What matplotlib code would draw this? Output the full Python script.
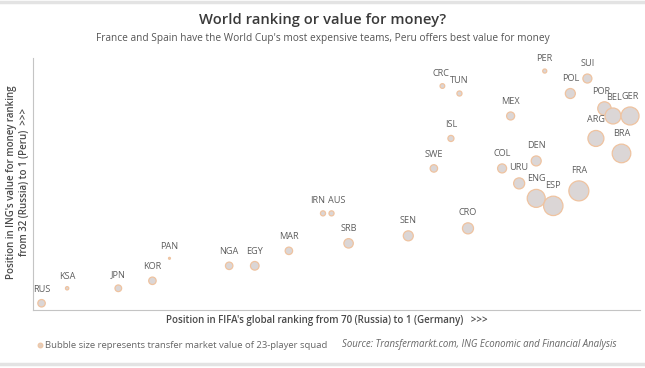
"""
World ranking vs value for money bubble chart (ING, World Cup 2018).
"""
import matplotlib
matplotlib.use("Agg")
import matplotlib.pyplot as plt
from matplotlib.lines import Line2D
import numpy as np

plt.rcParams["font.family"] = ["Open Sans", "DejaVu Sans"]

# ── data ────────────────────────────────────────────────────────────────
teams = ["RUS", "KSA", "JPN", "KOR", "PAN", "NGA", "EGY", "MAR", "IRN", "AUS",
         "SRB", "SEN", "CRO", "SWE", "ISL", "CRC", "TUN", "PER", "SUI", "POL",
         "MEX", "COL", "DEN", "URU", "ENG", "ESP", "FRA", "ARG", "BRA", "POR",
         "BEL", "GER"]
fifa_rank = [70, 67, 61, 57, 55, 48, 45, 41, 37, 36,
             34, 27, 20, 24, 22, 23, 21, 11, 6, 8,
             15, 16, 12, 14, 12, 10, 7, 5, 2, 4,
             3, 1]
value_rank = [32, 30, 30, 29, 26, 27, 27, 25, 20, 20,
              24, 23, 22, 14, 10, 3, 4, 1, 2, 4,
              7, 14, 13, 16, 18, 19, 17, 10, 12, 6,
              7, 7]
# squad transfer value, EUR m
squad_value = [150, 30, 120, 150, 10, 150, 200, 150, 70, 70,
               240, 270, 330, 150, 100, 60, 70, 45, 220, 270,
               175, 220, 270, 330, 875, 1015, 1080, 690, 935, 485,
               690, 875]

# small horizontal nudges for crowded labels (points)
label_dx = {"IRN": -4, "AUS": 4, "CRC": -1, "POR": -2, "BEL": 1}

FILL = "#dbd6d6"
EDGE = "#efc3a0"
LABEL_C = "#5e5e5e"

fig = plt.figure(figsize=(6.45, 3.68), dpi=100)
ax = fig.add_axes([0.0512, 0.1576, 0.9408, 0.6848])

vals = np.array(squad_value, dtype=float)
r_px = np.sqrt(vals / 10.8)
sizes = (2 * r_px * 0.72) ** 2

ax.scatter(fifa_rank, value_rank, s=sizes, facecolor=FILL, edgecolor=EDGE,
           linewidth=0.9, zorder=3)

for t, x, y, r in zip(teams, fifa_rank, value_rank, r_px):
    ax.annotate(t, (x, y), xytext=(label_dx.get(t, 0), (r + 10.5) * 0.72),
                textcoords="offset points", ha="center", va="center",
                fontsize=6.6, color=LABEL_C, zorder=4)

ax.set_xlim(71.0, -0.15)
ax.set_ylim(32.9, -0.74)
ax.set_xticks([]); ax.set_yticks([])
for side in ["top", "right"]:
    ax.spines[side].set_visible(False)
for side in ["left", "bottom"]:
    ax.spines[side].set_color("#c4c4c4")
    ax.spines[side].set_linewidth(0.8)

# ── texts ───────────────────────────────────────────────────────────────
fig.text(0.5, 1 - 20 / 368, "World ranking or value for money?", ha="center", va="center",
         fontsize=10.6, fontweight="semibold", color="#3a3a3a")
fig.text(0.5, 1 - 38 / 368,
         "France and Spain have the World Cup's most expensive teams, Peru offers best value for money",
         ha="center", va="center", fontsize=7.3, color="#555555")
fig.text(18 / 645, 1 - 182 / 368,
         "Position in ING's value for money ranking\nfrom 32 (Russia) to 1 (Peru)  >>>",
         rotation=90, ha="center", va="center", fontsize=7, fontweight="semibold",
         color="#4a4a4a", linespacing=1.25)
fig.text(327 / 645, 1 - 320 / 368,
         "Position in FIFA's global ranking from 70 (Russia) to 1 (Germany)   >>>",
         ha="center", va="center", fontsize=7, fontweight="semibold", color="#4a4a4a")

fig.add_artist(Line2D([40 / 645], [1 - 345 / 368], marker="o", markersize=3.5,
                      markerfacecolor="#e3cdbb", markeredgecolor=EDGE, markeredgewidth=0.7,
                      transform=fig.transFigure))
fig.text(45 / 645, 1 - 345 / 368,
         "Bubble size represents transfer market value of 23-player squad",
         ha="left", va="center", fontsize=6.8, color="#666666")
fig.text(342 / 645, 1 - 345 / 368,
         "Source: Transfermarkt.com, ING Economic and Financial Analysis",
         ha="left", va="center", fontsize=6.9, style="italic", color="#666666")

# grey bands top and bottom
fig.add_artist(Line2D([0, 1], [1 - 2 / 368] * 2, color="#e3e3e3", lw=2.5,
                      transform=fig.transFigure))
fig.add_artist(Line2D([0, 1], [1 - 364 / 368] * 2, color="#e3e3e3", lw=2.5,
                      transform=fig.transFigure))

fig.savefig("out.png", dpi=100)
